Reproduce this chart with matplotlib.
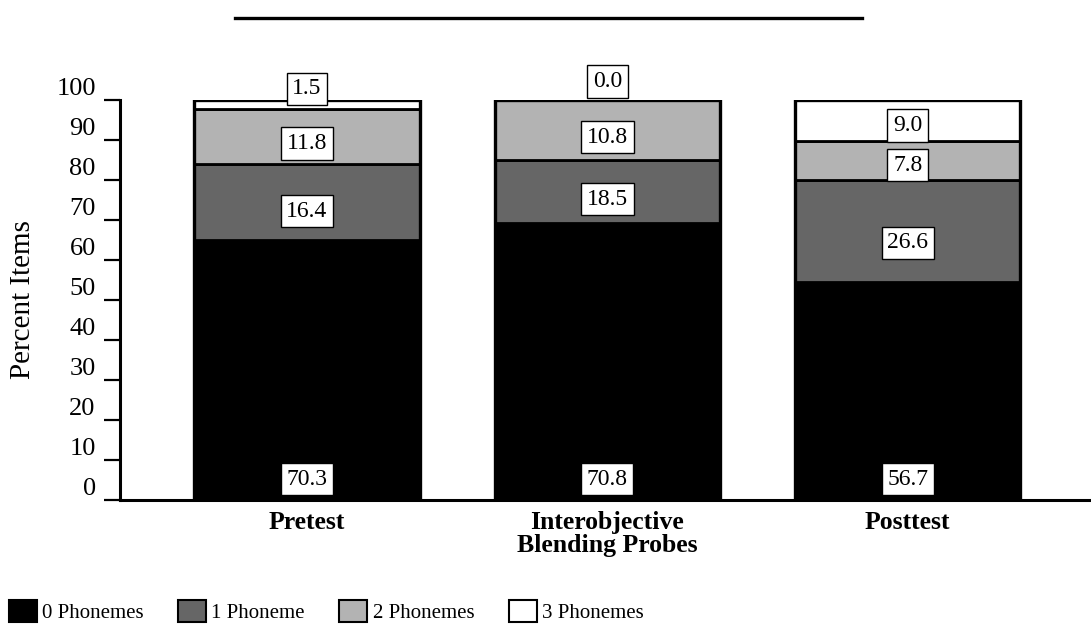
import numpy as np
import matplotlib
matplotlib.use("Agg")
import matplotlib.pyplot as plt
from matplotlib.patches import Patch
from matplotlib.lines import Line2D

groups = ["Pretest", "Interobjective\nBlending Probes", "Posttest"]
series = ["0 Phonemes", "1 Phoneme", "2 Phonemes", "3 Phonemes"]

# printed values in the boxes
zero_lbl = [70.3, 70.8, 56.7]
one_lbl = [16.4, 18.5, 26.6]
two_lbl = [11.8, 10.8, 7.8]
three_lbl = [1.5, 0.0, 9.0]

# segment heights as drawn in the original (they don't follow the printed numbers exactly)
zero_h = [65.0, 69.2, 54.5]
one_h = [18.9, 15.8, 25.5]
two_h = [13.8, 15.0, 9.7]
three_h = [2.3, 0.0, 10.3]

colors = ["#000000", "#666666", "#b3b3b3", "#ffffff"]

plt.rcParams['font.family'] = ['Liberation Serif', 'DejaVu Serif']

fig = plt.figure(figsize=(10.91, 6.27), dpi=100)
ax = fig.add_axes([120 / 1091, 127 / 627, 971 / 1091, 400 / 627])

x = np.arange(len(groups))
heights = [zero_h, one_h, two_h, three_h]
labels = [zero_lbl, one_lbl, two_lbl, three_lbl]

bottom = np.zeros(len(groups))
for i, h in enumerate(heights):
    h = np.array(h)
    ax.bar(x, h, width=0.75, bottom=bottom, color=colors[i],
           edgecolor='black', linewidth=2.0 if i > 0 else 0, zorder=2)
    for j in range(len(groups)):
        if i == 0:
            ypos = 5.2
        elif h[j] < 5:
            # too thin, put the box above the bar
            ypos = bottom[j] + h[j] + 3 + (2 - h[j]) * 0.8
        else:
            ypos = bottom[j] + h[j] / 2 - min(h[j] * 0.12, 3)
        ax.text(x[j], ypos, f"{labels[i][j]:.1f}", ha='center', va='center',
                fontsize=17, clip_on=False, zorder=5,
                bbox=dict(boxstyle='square,pad=0.24', facecolor='white',
                          edgecolor='black', linewidth=1.0))
    bottom += h

# outer outline of each bar
ax.bar(x, bottom, width=0.75, color='none', edgecolor='black', linewidth=2.4, zorder=3)

ax.set_xlim(-0.622, 2.61)
ax.set_ylim(0, 100)
ax.set_yticks(np.arange(0, 101, 10))
ax.tick_params(axis='y', direction='out', length=11.5, width=1.6, labelsize=19, pad=6)
ax.tick_params(axis='x', length=0, labelsize=18.5, pad=8)
ax.set_xticks(x)
ax.set_xticklabels(groups, fontweight='bold', linespacing=1.0)
for lbl in ax.get_yticklabels():
    lbl.set_verticalalignment('bottom')

ax.spines['top'].set_visible(False)
ax.spines['right'].set_visible(False)
ax.spines['left'].set_linewidth(2.2)
ax.spines['bottom'].set_linewidth(2.2)
ax.set_ylabel('Percent Items', fontsize=21)
ax.yaxis.set_label_coords(-0.087, 0.5)

# rule across the top
fig.add_artist(Line2D([235 / 1091, 862 / 1091], [1 - 17.5 / 627] * 2,
                      color='black', linewidth=2.4))

handles = [Patch(facecolor=c, edgecolor='black', linewidth=1.5) for c in colors]
fig.legend(handles, series, loc='lower left', bbox_to_anchor=(0.008, 0.006),
           ncol=4, frameon=False, fontsize=15, handlelength=1.35, handleheight=1.25,
           handletextpad=0.25, columnspacing=1.65, borderpad=0, borderaxespad=0)

plt.savefig('out.png', dpi=100)
